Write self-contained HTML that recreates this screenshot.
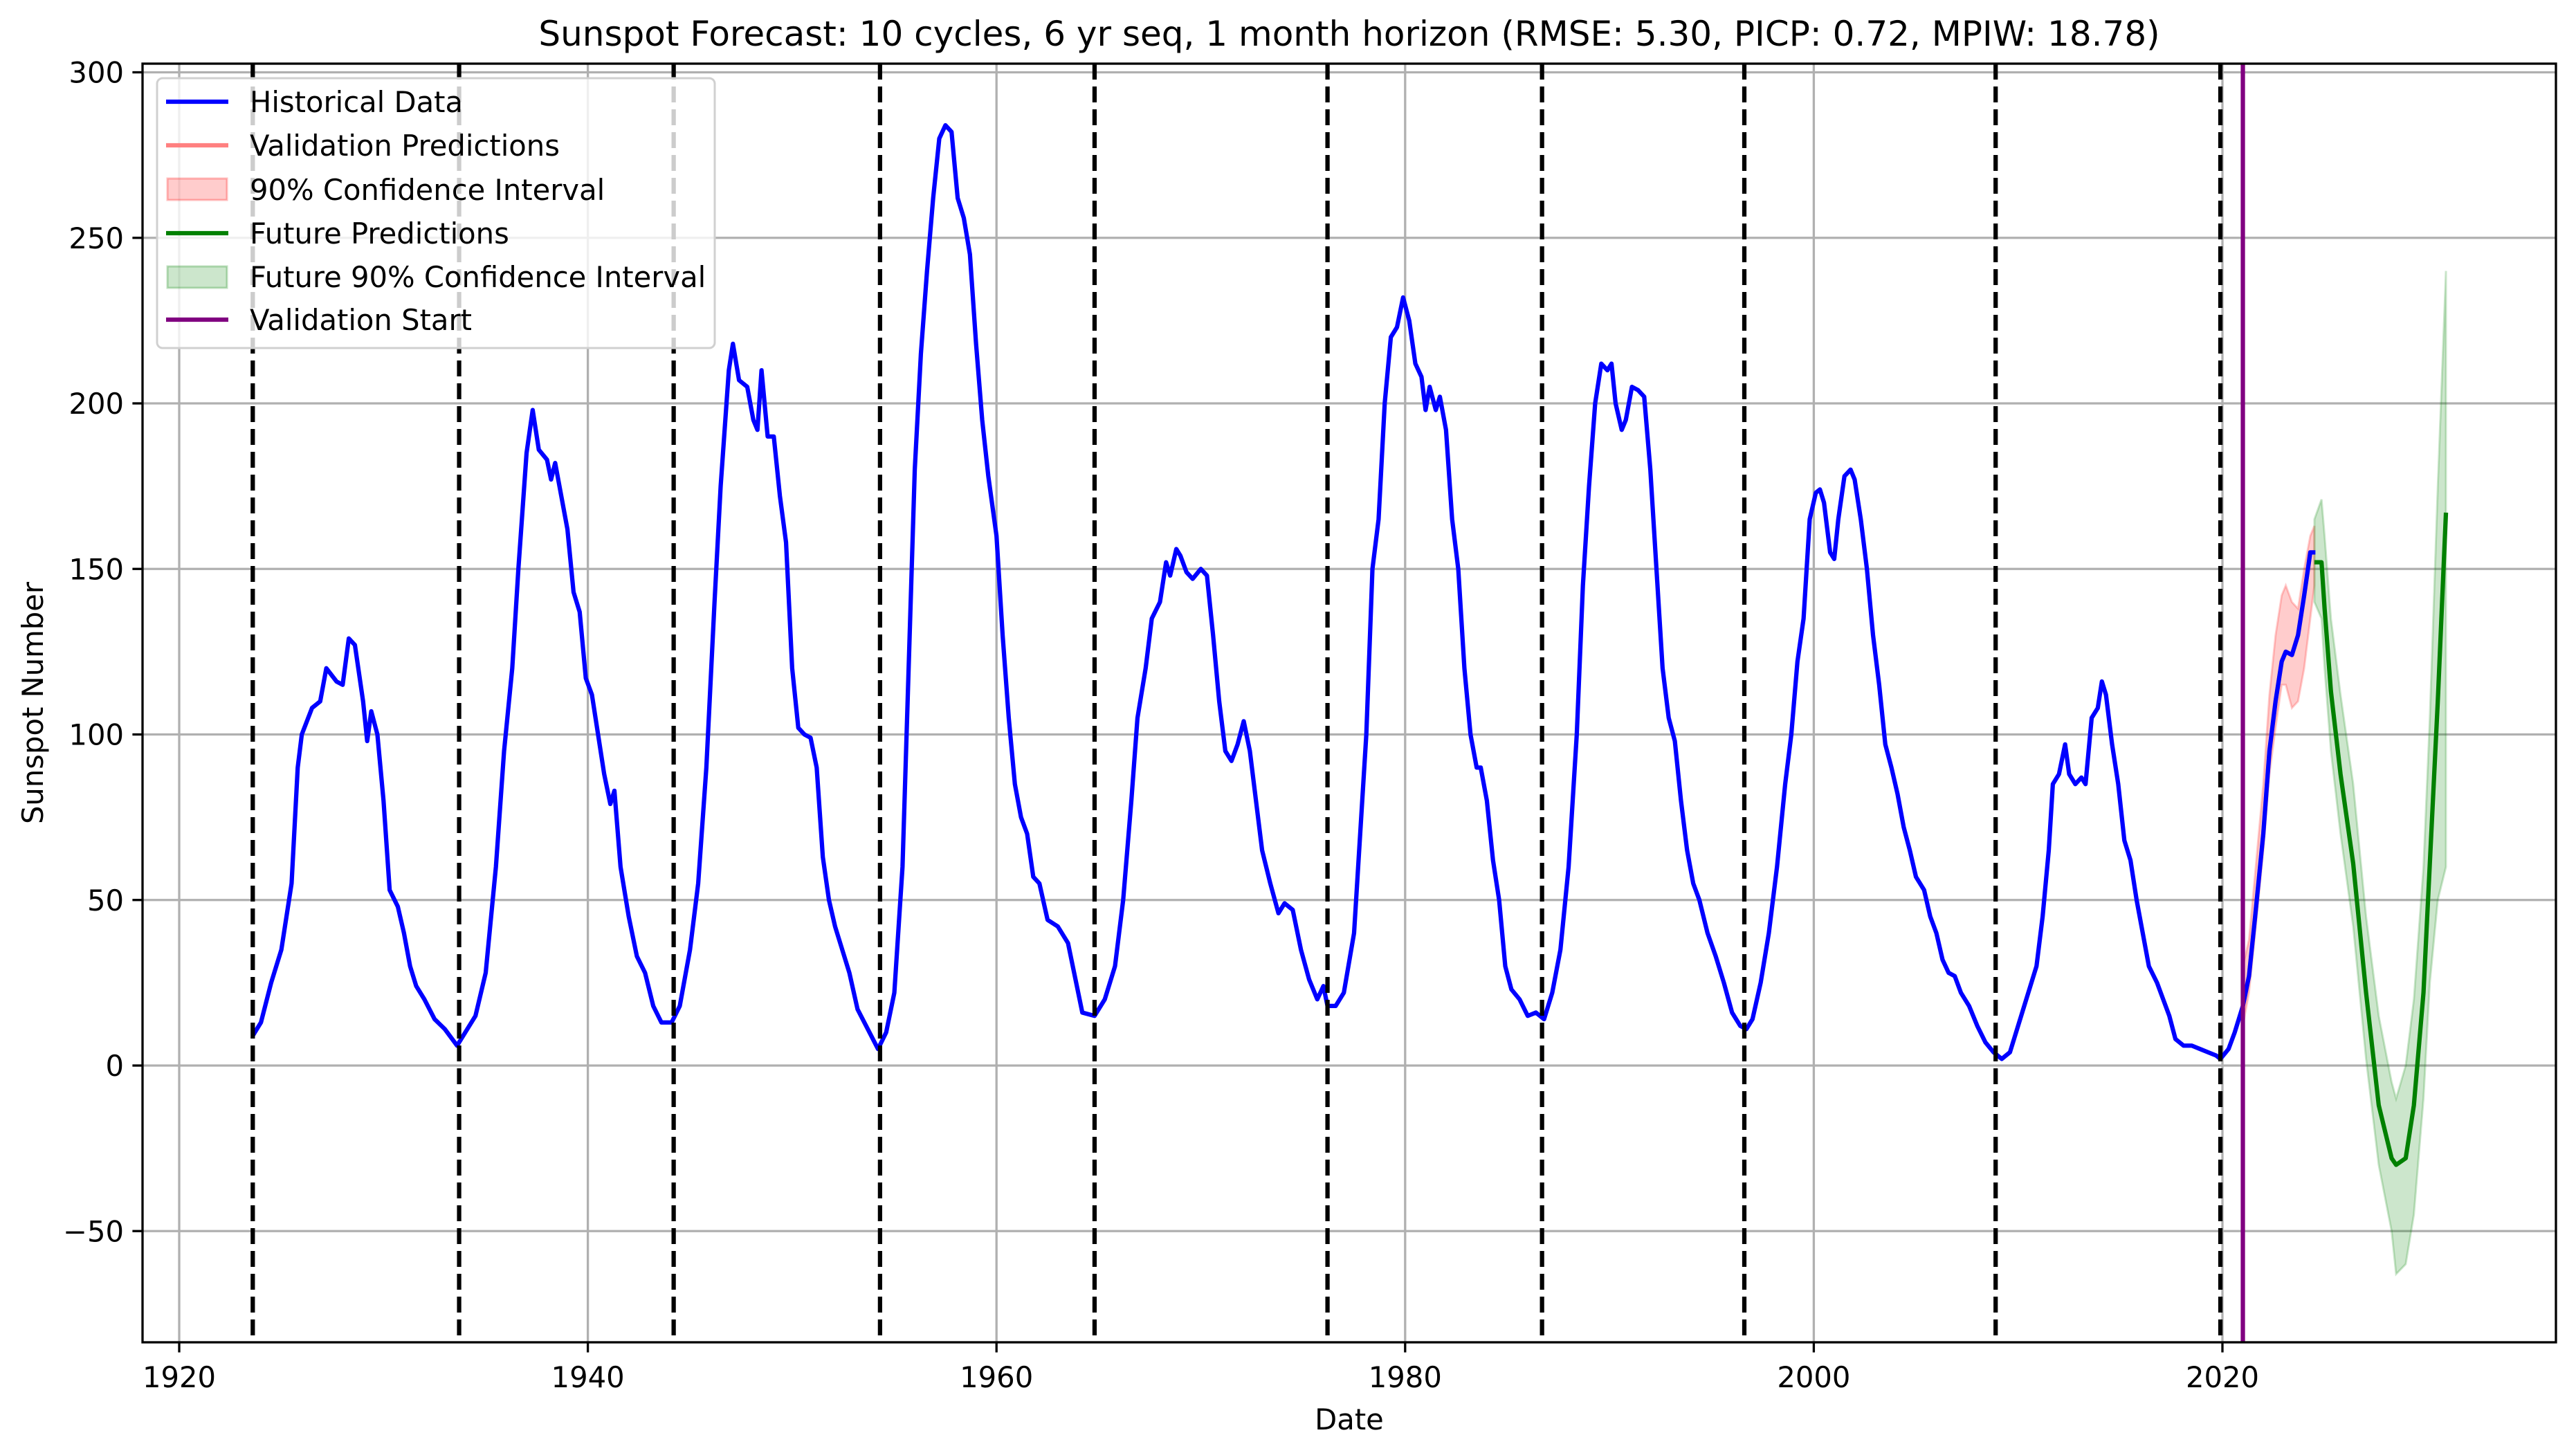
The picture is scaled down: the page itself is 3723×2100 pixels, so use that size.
<!DOCTYPE html>
<html><head><meta charset="utf-8">
<style>
html,body{margin:0;padding:0;background:#fff;}
svg{display:block;font-family:"DejaVu Sans","Liberation Sans",sans-serif;}
</style></head>
<body>
<svg id="chart" width="3723" height="2100" viewBox="0 0 3723 2100" xmlns="http://www.w3.org/2000/svg">
<rect x="0" y="0" width="3723" height="2100" fill="#fff"/>
<defs><clipPath id="plotclip"><rect x="206" y="92" width="3488" height="1848"/></clipPath></defs>
<g id="grid"></g>
<g id="marks" clip-path="url(#plotclip)"></g>
<g id="axes"></g>
<text x="1950" y="66" text-anchor="middle" font-size="50">Sunspot Forecast: 10 cycles, 6 yr seq, 1 month horizon (RMSE: 5.30, PICP: 0.72, MPIW: 18.78)</text>
<text x="1950" y="2066" text-anchor="middle" font-size="41.7">Date</text>
<text x="62" y="1016" text-anchor="middle" font-size="41.7" transform="rotate(-90 62 1016)">Sunspot Number</text>
<g id="legend">
  <rect x="227" y="113" width="806" height="390" rx="8" fill="#fff" fill-opacity="0.8" stroke="#d0d0d0" stroke-width="3"/>
  <g><line x1="240" y1="147" x2="330" y2="147" stroke="#0000ff" stroke-width="6.25"/><text x="361" y="162" font-size="41.7">Historical Data</text></g>
  <g><line x1="240" y1="210" x2="330" y2="210" stroke="#ff8080" stroke-width="6.25"/><text x="361" y="225" font-size="41.7">Validation Predictions</text></g>
  <g><rect x="242" y="258" width="86" height="31" fill="#ff0000" fill-opacity="0.2" stroke="#ff0000" stroke-opacity="0.25" stroke-width="3"/><text x="361" y="289" font-size="41.7">90% Confidence Interval</text></g>
  <g><line x1="240" y1="337" x2="330" y2="337" stroke="#008000" stroke-width="6.25"/><text x="361" y="352" font-size="41.7">Future Predictions</text></g>
  <g><rect x="242" y="385" width="86" height="31" fill="#008000" fill-opacity="0.2" stroke="#008000" stroke-opacity="0.25" stroke-width="3"/><text x="361" y="415" font-size="41.7">Future 90% Confidence Interval</text></g>
  <g><line x1="240" y1="462" x2="330" y2="462" stroke="#800080" stroke-width="6.25"/><text x="361" y="477" font-size="41.7">Validation Start</text></g>
</g>
</svg>
<script>
const xTicks = [1920,1940,1960,1980,2000,2020];
const yTicks = [-50,0,50,100,150,200,250,300];
const cycleStarts = [1923.6,1933.7,1944.2,1954.3,1964.8,1976.2,1986.7,1996.6,2008.9,2019.9];
const validationStart = 2021.0;
const histYears = [1923.6,1924.0,1924.5,1925.0,1925.5,1925.8,1926.0,1926.5,1926.9,1927.2,1927.7,1928.0,1928.3,1928.6,1929.0,1929.2,1929.4,1929.7,1930.0,1930.3,1930.7,1931.0,1931.3,1931.6,1932.0,1932.5,1933.0,1933.6,
1934.0,1934.5,1935.0,1935.5,1935.9,1936.3,1936.6,1937.0,1937.3,1937.6,1938.0,1938.2,1938.4,1938.7,1939.0,1939.3,1939.6,1939.9,1940.2,1940.5,1940.8,1941.1,1941.3,1941.6,1942.0,1942.4,1942.8,1943.2,1943.6,1944.1,
1944.5,1945.0,1945.4,1945.8,1946.2,1946.5,1946.9,1947.1,1947.4,1947.8,1948.1,1948.3,1948.5,1948.8,1949.1,1949.4,1949.7,1950.0,1950.3,1950.6,1950.9,1951.2,1951.5,1951.8,1952.1,1952.4,1952.8,1953.2,1953.7,1954.2,
1954.6,1955.0,1955.4,1955.7,1956.0,1956.3,1956.6,1956.9,1957.2,1957.5,1957.8,1958.1,1958.4,1958.7,1959.0,1959.3,1959.6,1960.0,1960.3,1960.6,1960.9,1961.2,1961.5,1961.8,1962.1,1962.5,1963.0,1963.5,1963.8,1964.2,1964.8,
1965.3,1965.8,1966.2,1966.6,1966.9,1967.3,1967.6,1968.0,1968.3,1968.5,1968.8,1969.0,1969.3,1969.6,1970.0,1970.3,1970.6,1970.9,1971.2,1971.5,1971.8,1972.1,1972.4,1972.7,1973.0,1973.4,1973.8,1974.1,1974.5,1974.9,1975.3,1975.7,1976.0,1976.2,
1976.6,1977.0,1977.5,1977.8,1978.1,1978.4,1978.7,1979.0,1979.3,1979.6,1979.9,1980.2,1980.5,1980.8,1981.0,1981.2,1981.5,1981.7,1982.0,1982.3,1982.6,1982.9,1983.2,1983.5,1983.7,1984.0,1984.3,1984.6,1984.9,1985.2,1985.6,1986.0,1986.4,1986.8,
1987.2,1987.6,1988.0,1988.4,1988.7,1989.0,1989.3,1989.6,1989.9,1990.1,1990.3,1990.6,1990.8,1991.1,1991.4,1991.7,1992.0,1992.3,1992.6,1992.9,1993.2,1993.5,1993.8,1994.1,1994.4,1994.8,1995.2,1995.6,1996.0,1996.4,1996.7,
1997.0,1997.4,1997.8,1998.2,1998.6,1998.9,1999.2,1999.5,1999.8,2000.1,2000.3,2000.5,2000.8,2001.0,2001.2,2001.5,2001.8,2002.0,2002.3,2002.6,2002.9,2003.2,2003.5,2003.8,2004.1,2004.4,2004.7,2005.0,2005.4,2005.7,2006.0,2006.3,2006.6,2006.9,2007.2,2007.6,2008.0,2008.4,2008.8,2009.2,
2009.6,2010.0,2010.5,2010.9,2011.2,2011.5,2011.7,2012.0,2012.3,2012.5,2012.8,2013.1,2013.3,2013.6,2013.9,2014.1,2014.3,2014.6,2014.9,2015.2,2015.5,2015.8,2016.1,2016.4,2016.8,2017.1,2017.4,2017.7,2018.1,2018.5,2018.9,2019.3,2019.7,2019.9,
2020.3,2020.6,2021.0,2021.3,2021.6,2022.0,2022.3,2022.6,2022.9,2023.1,2023.4,2023.7,2024.0,2024.3,2024.55];
const histValues = [9,13,25,35,55,90,100,108,110,120,116,115,129,127,110,98,107,100,80,53,48,40,30,24,20,14,11,6,
10,15,28,60,95,120,150,185,198,186,183,177,182,172,162,143,137,117,112,100,88,79,83,60,45,33,28,18,13,13,
18,35,55,90,140,175,210,218,207,205,195,192,210,190,190,172,158,120,102,100,99,90,63,50,42,36,28,17,11,5,
10,22,60,120,180,215,240,262,280,284,282,262,256,245,218,195,178,160,130,105,85,75,70,57,55,44,42,37,28,16,15,
20,30,50,80,105,120,135,140,152,148,156,154,149,147,150,148,130,110,95,92,97,104,95,80,65,55,46,49,47,35,26,20,24,18,
18,22,40,70,100,150,165,200,220,223,232,225,212,208,198,205,198,202,192,165,150,120,100,90,90,80,62,50,30,23,20,15,16,14,
22,35,60,100,145,175,200,212,210,212,200,192,195,205,204,202,180,150,120,105,98,80,65,55,50,40,33,25,16,12,11,
14,25,40,60,85,100,122,135,165,173,174,170,155,153,165,178,180,177,165,150,130,115,97,90,82,72,65,57,53,45,40,32,28,27,22,18,12,7,4,2,
4,12,22,30,45,65,85,88,97,88,85,87,85,105,108,116,112,97,85,68,62,50,40,30,25,20,15,8,6,6,5,4,3,2,
5,10,18,27,45,70,95,110,122,125,124,130,142,155,155];
const valYears = [2021.0,2021.3,2021.6,2022.0,2022.3,2022.6,2022.9,2023.1,2023.4,2023.7,2024.0,2024.3,2024.5];
const valPred = [18,27,45,70,95,110,122,125,124,130,142,155,155];
const valLower = [12,22,40,65,88,102,115,115,108,110,120,135,145];
const valUpper = [30,38,58,85,112,130,142,145,140,138,150,160,163];
const futYears = [2024.5,2024.85,2025.0,2025.31,2025.78,2026.4,2027.03,2027.65,2028.28,2028.5,2028.97,2029.37,2029.84,2030.15,2030.54,2030.94];
const futPred = [152,152,138,113,88,61,22,-12,-28,-30,-28,-12,22,61,110,167];
const futUpper = [165,171,160,135,112,85,45,15,-5,-10,0,20,60,105,175,240];
const futLower = [140,135,120,95,70,42,2,-30,-50,-63,-60,-45,-10,25,50,60];

const NS='http://www.w3.org/2000/svg';
const L=206,R=3694,T=92,B=1940;
function xs(v){return 259+(v-1920)*29.53;}
function ys(v){return 1540-v*4.785;}
function mk(tag,attrs,parent){const e=document.createElementNS(NS,tag);for(const k in attrs)e.setAttribute(k,attrs[k]);parent.appendChild(e);return e;}
const grid=document.getElementById('grid'),marks=document.getElementById('marks'),axes=document.getElementById('axes');

xTicks.forEach(t=>{
  const g=mk('line',{x1:xs(t),x2:xs(t),y1:T,y2:B,stroke:'#b0b0b0','stroke-width':3.3},grid);
  
  
  const tk=mk('line',{x1:xs(t),x2:xs(t),y1:B,y2:B+14.6,stroke:'#000','stroke-width':3.3},axes);
  
  
  const lb=mk('text',{x:xs(t),y:2005,'text-anchor':'middle','font-size':41.7},axes);
  lb.textContent=t;
  
  
});
yTicks.forEach(t=>{
  const g=mk('line',{x1:L,x2:R,y1:ys(t),y2:ys(t),stroke:'#b0b0b0','stroke-width':3.3},grid);
  
  
  const tk=mk('line',{x1:L-14.6,x2:L,y1:ys(t),y2:ys(t),stroke:'#000','stroke-width':3.3},axes);
  
  
  const lb=mk('text',{x:L-27,y:ys(t)+15,'text-anchor':'end','font-size':41.7},axes);
  lb.textContent=(t<0?'\u2212'+(-t):t);
  
  
});

function band(xsA,lo,hi,color,name){
  let d='M'+xsA.map((x,i)=>xs(x)+','+ys(hi[i])).join(' L');
  for(let i=xsA.length-1;i>=0;i--)d+=' L'+xs(xsA[i])+','+ys(lo[i]);
  const p=mk('path',{d:d+' Z',fill:color,'fill-opacity':0.2,stroke:color,'stroke-opacity':0.2,'stroke-width':3},marks);
  
  
}
function line(xsA,ysA,color,name){
  const p=mk('polyline',{points:xsA.map((x,i)=>xs(x)+','+ys(ysA[i])).join(' '),fill:'none',stroke:color,'stroke-width':6.25,'stroke-linejoin':'round'},marks);
  
  
}
band(valYears,valLower,valUpper,'#ff0000','validation-confidence-band');
line(valYears,valPred,'#ff8080','validation-predictions-line');
band(futYears,futLower,futUpper,'#008000','future-confidence-band');
line(histYears,histValues,'#0000ff','historical-data-line');
line(futYears,futPred,'#008000','future-predictions-line');
cycleStarts.forEach(c=>{
  const l=mk('line',{x1:xs(c),x2:xs(c),y1:T,y2:B,stroke:'#000','stroke-width':6.25,'stroke-dasharray':'23 10'},marks);
  
  
});
const vs=mk('line',{x1:xs(validationStart),x2:xs(validationStart),y1:T,y2:B,stroke:'#800080','stroke-width':6.25},marks);


const frame=mk('rect',{x:L,y:T,width:R-L,height:B-T,fill:'none',stroke:'#000','stroke-width':3.3},axes);


</script>
</body></html>
